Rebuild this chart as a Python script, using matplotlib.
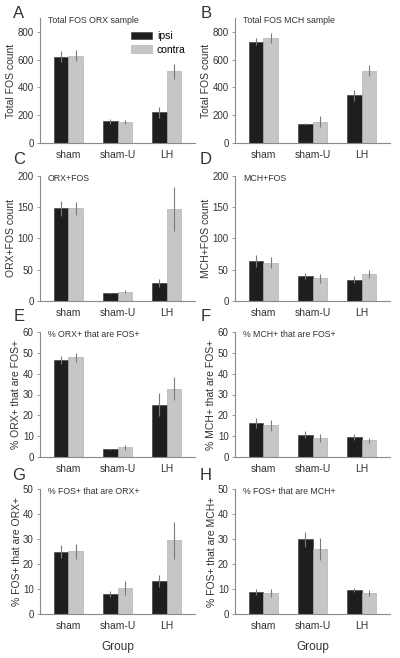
import matplotlib
matplotlib.use("Agg")
import matplotlib.pyplot as plt
import numpy as np

plt.rcParams["font.family"] = ["Liberation Sans", "DejaVu Sans"]

groups = ["sham", "sham-U", "LH"]

# values: (ipsi, ipsi err, contra, contra err)
a_ipsi = [620, 155, 220]
a_ipsi_err = [40, 15, 40]
a_contra = [628, 152, 515]
a_contra_err = [40, 15, 55]

b_ipsi = [730, 135, 345]
b_ipsi_err = [25, 8, 40]
b_contra = [755, 152, 520]
b_contra_err = [35, 40, 40]

c_ipsi = [148, 12, 29]
c_ipsi_err = [12, 1, 6]
c_contra = [148, 15, 147]
c_contra_err = [11, 3, 35]

d_ipsi = [64, 40, 34]
d_ipsi_err = [9, 5, 6]
d_contra = [61, 36, 43]
d_contra_err = [9, 7, 6]

e_ipsi = [46.5, 3.7, 25.0]
e_ipsi_err = [2.0, 0.3, 5.5]
e_contra = [47.8, 4.6, 32.8]
e_contra_err = [2.0, 1.3, 5.5]

f_ipsi = [16.3, 10.7, 9.5]
f_ipsi_err = [2.5, 1.7, 1.5]
f_contra = [15.2, 9.0, 8.0]
f_contra_err = [2.5, 2.0, 1.3]

g_ipsi = [25.0, 7.9, 13.3]
g_ipsi_err = [2.5, 1.2, 2.5]
g_contra = [25.2, 10.4, 29.5]
g_contra_err = [3.0, 2.8, 7.5]

h_ipsi = [8.9, 30.0, 9.7]
h_ipsi_err = [1.3, 3.0, 0.8]
h_contra = [8.5, 26.0, 8.4]
h_contra_err = [1.6, 4.5, 1.2]

panels = [
    ("A", "Total FOS ORX sample", "Total FOS count", a_ipsi, a_ipsi_err, a_contra, a_contra_err, 900, np.arange(0, 801, 200)),
    ("B", "Total FOS MCH sample", "Total FOS count", b_ipsi, b_ipsi_err, b_contra, b_contra_err, 900, np.arange(0, 801, 200)),
    ("C", "ORX+FOS", "ORX+FOS count", c_ipsi, c_ipsi_err, c_contra, c_contra_err, 200, np.arange(0, 201, 50)),
    ("D", "MCH+FOS", "MCH+FOS count", d_ipsi, d_ipsi_err, d_contra, d_contra_err, 200, np.arange(0, 201, 50)),
    ("E", "% ORX+ that are FOS+", "% ORX+ that are FOS+", e_ipsi, e_ipsi_err, e_contra, e_contra_err, 60, np.arange(0, 61, 10)),
    ("F", "% MCH+ that are FOS+", "% MCH+ that are FOS+", f_ipsi, f_ipsi_err, f_contra, f_contra_err, 60, np.arange(0, 61, 10)),
    ("G", "% FOS+ that are ORX+", "% FOS+ that are ORX+", g_ipsi, g_ipsi_err, g_contra, g_contra_err, 50, np.arange(0, 51, 10)),
    ("H", "% FOS+ that are MCH+", "% FOS+ that are MCH+", h_ipsi, h_ipsi_err, h_contra, h_contra_err, 50, np.arange(0, 51, 10)),
]

W, H = 400, 658
fig = plt.figure(figsize=(W / 100, H / 100), dpi=100)

lefts = [40, 235]
letter_x = [19, 206]
bottoms = [143, 301, 457, 614]   # pixel row of each x axis
letter_y = [14, 159, 317, 475]
ax_w, ax_h = 155, 125

ipsi_col = "#1e1e1e"
contra_col = "#c6c6c6"
spine_col = "#8a8a8a"
err_col = "#7a7a7a"
text_col = "#333333"
bw = 0.29
x = np.arange(len(groups))

for i, (letter, title, ylabel, ip, ip_e, co, co_e, ytop, yt) in enumerate(panels):
    row, col = divmod(i, 2)
    l = lefts[col]
    b = bottoms[row]
    ax = fig.add_axes([l / W, 1 - b / H, ax_w / W, ax_h / H])
    ax.bar(x - bw / 2, ip, bw, color=ipsi_col, edgecolor="#333333", linewidth=0.4, label="ipsi")
    ax.bar(x + bw / 2, co, bw, color=contra_col, edgecolor="#a8a8a8", linewidth=0.4, label="contra")
    ax.errorbar(x - bw / 2, ip, yerr=ip_e, fmt="none", ecolor=err_col, elinewidth=0.8, capsize=0)
    ax.errorbar(x + bw / 2, co, yerr=co_e, fmt="none", ecolor=err_col, elinewidth=0.8, capsize=0)
    ax.set_xlim(-0.58, 2.58)
    ax.set_ylim(0, ytop)
    ax.set_yticks(yt)
    ax.set_xticks(x)
    ax.set_xticklabels(groups)
    for s in ("top", "right"):
        ax.spines[s].set_visible(False)
    for s in ("left", "bottom"):
        ax.spines[s].set_color(spine_col)
        ax.spines[s].set_linewidth(0.8)
    ax.tick_params(axis="y", length=2.5, width=0.6, color=spine_col, labelsize=7, pad=2, labelcolor=text_col)
    ax.tick_params(axis="x", length=0, labelsize=7.5, pad=5, labelcolor=text_col)
    ax.set_ylabel(ylabel, fontsize=7.5, color=text_col, labelpad=1)
    ax.text(0.05, 0.98, title, transform=ax.transAxes, fontsize=6.3, va="center", ha="left", color=text_col)
    fig.text(letter_x[col] / W, 1 - letter_y[row] / H, letter, fontsize=12, color=text_col,
             ha="center", va="center")
    if letter == "A":
        ax.legend(loc="upper right", bbox_to_anchor=(1.0, 0.97), fontsize=7.5, frameon=False,
                  handlelength=2.0, handleheight=0.8, labelspacing=0.35, handletextpad=0.5)
    if row == 3:
        ax.set_xlabel("Group", fontsize=8.5, color=text_col, labelpad=7)

fig.savefig("out.png", dpi=100)
